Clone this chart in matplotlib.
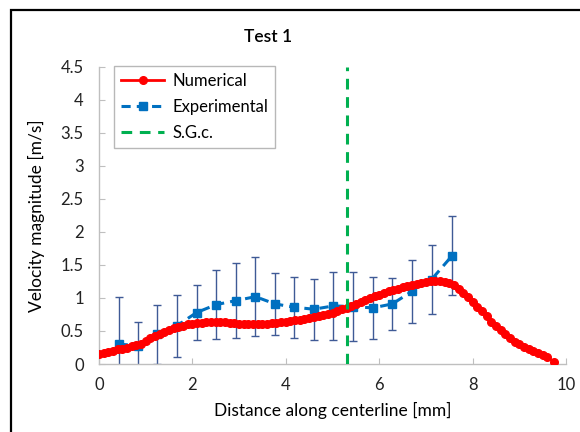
import numpy as np
import matplotlib
matplotlib.use("Agg")
import matplotlib.pyplot as plt
from matplotlib.patches import Rectangle

plt.rcParams["font.family"] = ["Lato", "DejaVu Sans"]

# ── Data ─────────────────────────────────────────────────────────────────────
num_x = [0.0, 0.1, 0.2, 0.3, 0.4, 0.5, 0.6, 0.7, 0.8, 0.9,
         1.0, 1.1, 1.2, 1.3, 1.4, 1.5, 1.6, 1.7, 1.8, 1.9,
         2.0, 2.1, 2.2, 2.3, 2.4, 2.5, 2.6, 2.7, 2.8, 2.9,
         3.0, 3.1, 3.2, 3.3, 3.4, 3.5, 3.6, 3.7, 3.8, 3.9,
         4.0, 4.1, 4.2, 4.3, 4.4, 4.5, 4.6, 4.7, 4.8, 4.9,
         5.0, 5.1, 5.2, 5.3, 5.4, 5.5, 5.6, 5.7, 5.8, 5.9,
         6.0, 6.1, 6.2, 6.3, 6.4, 6.5, 6.6, 6.7, 6.8, 6.9,
         7.0, 7.1, 7.2, 7.3, 7.4, 7.5, 7.6, 7.7, 7.8, 7.9,
         8.0, 8.1, 8.2, 8.3, 8.4, 8.5, 8.6, 8.7, 8.8, 8.9,
         9.0, 9.1, 9.2, 9.3, 9.4, 9.5, 9.6, 9.75]
num_y = [0.15, 0.16, 0.18, 0.20, 0.22, 0.23, 0.25, 0.27, 0.29, 0.31,
         0.35, 0.39, 0.43, 0.46, 0.49, 0.52, 0.54, 0.56, 0.58, 0.60,
         0.61, 0.62, 0.62, 0.63, 0.63, 0.63, 0.63, 0.63, 0.62, 0.62,
         0.61, 0.61, 0.61, 0.61, 0.61, 0.61, 0.61, 0.62, 0.62, 0.63,
         0.64, 0.65, 0.66, 0.67, 0.68, 0.70, 0.71, 0.73, 0.74, 0.76,
         0.78, 0.80, 0.83, 0.85, 0.88, 0.91, 0.94, 0.97, 1.00, 1.03,
         1.05, 1.08, 1.10, 1.12, 1.14, 1.16, 1.18, 1.19, 1.21, 1.22,
         1.24, 1.25, 1.25, 1.25, 1.24, 1.22, 1.19, 1.14, 1.08, 1.02,
         0.94, 0.87, 0.80, 0.72, 0.64, 0.57, 0.51, 0.45, 0.39, 0.34,
         0.30, 0.26, 0.23, 0.20, 0.17, 0.14, 0.10, 0.03]

exp_x = [0.42, 0.84, 1.25, 1.67, 2.09, 2.51, 2.93, 3.35, 3.77,
         4.18, 4.60, 5.02, 5.44, 5.86, 6.28, 6.70, 7.12, 7.56]
exp_y = [0.30, 0.28, 0.45, 0.58, 0.78, 0.90, 0.96, 1.02, 0.91,
         0.86, 0.83, 0.88, 0.87, 0.85, 0.91, 1.10, 1.28, 1.64]
exp_err = [0.72, 0.35, 0.45, 0.47, 0.42, 0.52, 0.57, 0.60, 0.47,
           0.46, 0.46, 0.52, 0.52, 0.47, 0.40, 0.48, 0.53, 0.60]

sgc_x = 5.32

RED = "#FF0000"
BLUE = "#0070C0"
GREEN = "#00B050"
ERR = "#3F5A96"
AXIS = "#BFBFBF"

fig = plt.figure(figsize=(5.8, 4.32), dpi=100)
ax = fig.add_axes([0.1707, 0.1574, 0.8052, 0.6876])

ax.errorbar(exp_x, exp_y, yerr=exp_err, fmt="none", ecolor=ERR,
            elinewidth=1.0, capsize=3, capthick=1.0, zorder=2)
ax.plot(exp_x, exp_y, color=BLUE, lw=2.2, ls=(0, (3, 2)), marker="s",
        ms=6, label="Experimental", zorder=3)
ax.plot(num_x, num_y, color=RED, lw=2, marker="o", ms=5.5,
        label="Numerical", zorder=4)
ax.axvline(sgc_x, color=GREEN, lw=2.2, ls=(0, (3.5, 2.5)), label="S.G.c.",
           zorder=5)

ax.set_xlim(0, 10)
ax.set_ylim(0, 4.5)
ax.set_xticks(np.arange(0, 11, 2))
ax.set_yticks(np.arange(0, 4.51, 0.5))
ax.set_yticklabels(["0", "0.5", "1", "1.5", "2", "2.5", "3", "3.5", "4", "4.5"])
ax.tick_params(direction="in", length=4, color=AXIS, labelsize=12,
               labelcolor="#222222")
ax.tick_params(axis="y", pad=11)
ax.tick_params(axis="x", pad=9)
for s in ("top", "right"):
    ax.spines[s].set_visible(False)
for s in ("left", "bottom"):
    ax.spines[s].set_color(AXIS)
    ax.spines[s].set_linewidth(1)

ax.set_xlabel("Distance along centerline [mm]", fontsize=12.5, labelpad=7)
ax.set_ylabel("Velocity magnitude [m/s]", fontsize=12.5, labelpad=11)

h, l = ax.get_legend_handles_labels()
order = [l.index("Numerical"), l.index("Experimental"), l.index("S.G.c.")]
leg = ax.legend([h[i] for i in order], [l[i] for i in order],
                loc="upper left", bbox_to_anchor=(0.015, 1.03), fontsize=12,
                fancybox=False, edgecolor="#A6A6A6", handlelength=2.6,
                borderpad=0.4, labelspacing=0.6, handletextpad=0.5)
leg.get_frame().set_linewidth(1)

fig.text(0.462, 0.914, "Test 1", ha="center", va="center", fontsize=12.5,
         fontweight="semibold")

# chart-area frame, cropped on the right and bottom
fig.patches.append(Rectangle((11 / 580, -0.1), 1.2, (432 - 10) / 432 + 0.1,
                             transform=fig.transFigure, fill=False,
                             edgecolor="black", lw=1.6))

fig.savefig("out.png", dpi=100)
